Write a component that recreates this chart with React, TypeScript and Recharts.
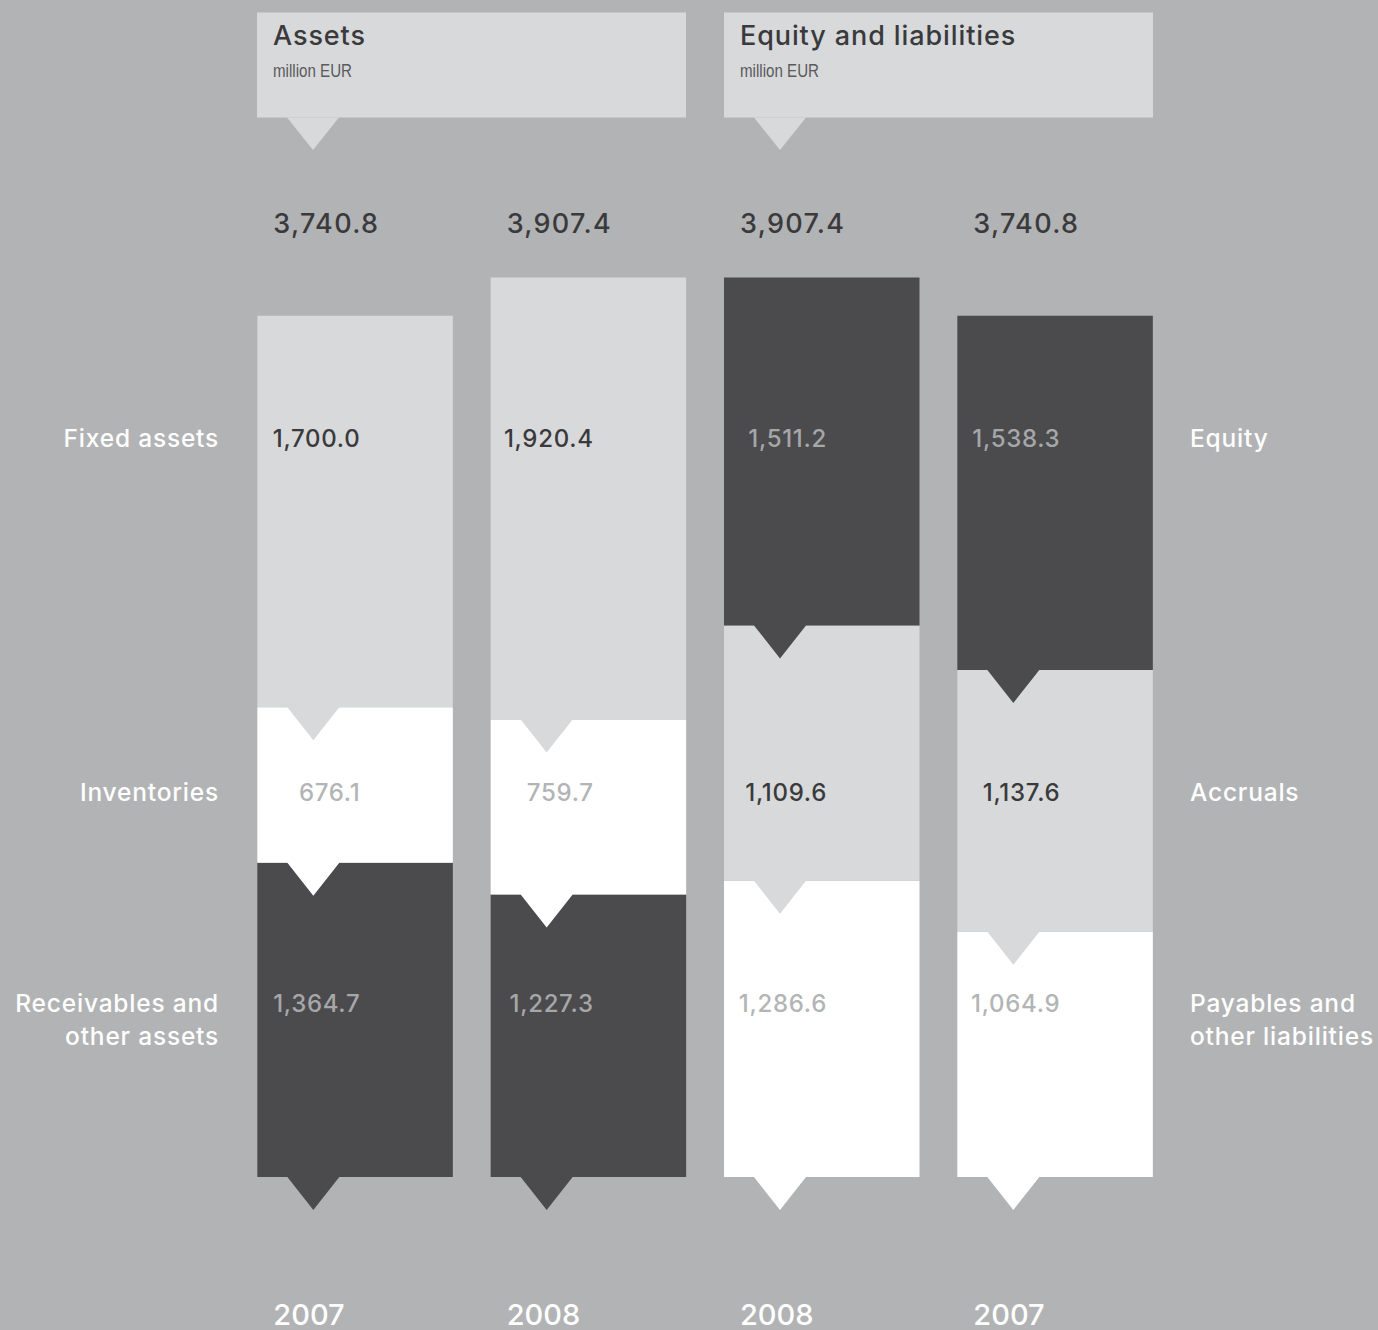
import React from "react";
import { BarChart, Bar, XAxis, YAxis, LabelList } from "recharts";

// values in million EUR
const categories = ["Assets 2007", "Assets 2008", "Liabilities 2008", "Liabilities 2007"];
const years = ["2007", "2008", "2008", "2007"];
const bottomValues = [1364.7, 1227.3, 1286.6, 1064.9];
const middleValues = [676.1, 759.7, 1109.6, 1137.6];
const topValues = [1700.0, 1920.4, 1511.2, 1538.3];
const totals = [3740.8, 3907.4, 3907.4, 3740.8];

const leftLabels = [["Fixed assets"], ["Inventories"], ["Receivables and", "other assets"]];
const rightLabels = [["Equity"], ["Accruals"], ["Payables and", "other liabilities"]];

const BG = "#b2b3b4";
const LIGHT = "#d8d9db";
const DARK = "#4b4b4d";
const WHITE = "#ffffff";
const FONT = "Inter, 'Liberation Sans', Arial, sans-serif";

const bottomFill = [DARK, DARK, WHITE, WHITE];
const middleFill = [WHITE, WHITE, LIGHT, LIGHT];
const topFill = [LIGHT, LIGHT, DARK, DARK];

const textOn: Record<string, string> = {
  [LIGHT]: "#3a3a3c",
  [DARK]: "#a6a7a9",
  [WHITE]: "#b3b4b5",
};

// baselines of the three label rows (top, middle, bottom segment)
const ROW_Y = [447, 801, 1012];

const data = categories.map((name, i) => ({
  name,
  year: years[i],
  total: totals[i],
  bottom: bottomValues[i],
  middle: middleValues[i],
  top: topValues[i],
}));

const fmt = (v: number) =>
  Number(v).toLocaleString("en-US", { minimumFractionDigits: 1, maximumFractionDigits: 1 });

const Pointer = (props: any) => {
  const x = Number(props.x);
  const y = Number(props.y);
  const w = Number(props.width);
  const h = Number(props.height);
  const by = y + h;
  const d = `M${x},${y}H${x + w}V${by}H${x + 82}L${x + 56},${by + 33}L${x + 30},${by}H${x}Z`;
  return <path d={d} fill={props.fill} />;
};

const valueLabel = (fills: string[], row: number) => (p: any) => {
  const i = p.index;
  return (
    <text
      x={Number(p.x) + 103}
      y={ROW_Y[row]}
      textAnchor="end"
      fontFamily={FONT}
      fontSize={24}
      fontWeight={500}
      letterSpacing={0.7}
      fill={textOn[fills[i]]}
    >
      {fmt(p.value)}
    </text>
  );
};

function Header({ x, title }: { x: number; title: string }) {
  return (
    <g>
      <rect x={x} y={12.5} width={429} height={105} fill={LIGHT} />
      <path d={`M${x + 30},117.5L${x + 56},150L${x + 82},117.5Z`} fill={LIGHT} />
      <text
        x={x + 16}
        y={45}
        fontFamily={FONT}
        fontSize={27}
        fontWeight={500}
        letterSpacing={0.9}
        fill="#3a3a3c"
      >
        {title}
      </text>
      <text
        x={x + 16}
        y={77}
        fontFamily="'Liberation Sans Narrow', 'Liberation Sans', Arial, sans-serif"
        fontSize={19}
        fill="#5a5a5c"
        textLength={79}
        lengthAdjust="spacingAndGlyphs"
      >
        million EUR
      </text>
    </g>
  );
}

function SideLabels({ lines, x, anchor }: { lines: string[][]; x: number; anchor: "start" | "end" }) {
  return (
    <g>
      {lines.map((ls, r) =>
        ls.map((t, k) => (
          <text
            key={`${r}-${k}`}
            x={x}
            y={ROW_Y[r] + k * 33}
            textAnchor={anchor}
            fontFamily={FONT}
            fontSize={24.5}
            fontWeight={500}
            letterSpacing={0.8}
            fill="#ffffff"
          >
            {t}
          </text>
        ))
      )}
    </g>
  );
}

export default function App() {
  return (
    <div style={{ position: "relative", width: 1378, height: 1330, background: BG, overflow: "hidden" }}>
      <style>{`body{margin:0;background:${BG}}`}</style>
      <BarChart
        width={1378}
        height={1330}
        data={data}
        margin={{ top: 256.2, right: 206.33, bottom: 153, left: 238.33 }}
      >
        <XAxis dataKey="name" hide />
        <YAxis hide domain={[0, 4000]} />
        <Bar
          dataKey="bottom"
          stackId="a"
          barSize={195.5}
          isAnimationActive={false}
          shape={(p: any) => <Pointer {...p} fill={bottomFill[p.index]} />}
        >
          <LabelList dataKey="bottom" content={valueLabel(bottomFill, 2)} />
          <LabelList
            dataKey="year"
            content={(p: any) => (
              <text
                x={Number(p.x) + 16}
                y={1325}
                fontFamily={FONT}
                fontSize={29}
                fontWeight={500}
                fill="#ffffff"
              >
                {p.value}
              </text>
            )}
          />
        </Bar>
        <Bar
          dataKey="middle"
          stackId="a"
          barSize={195.5}
          isAnimationActive={false}
          shape={(p: any) => <Pointer {...p} fill={middleFill[p.index]} />}
        >
          <LabelList dataKey="middle" content={valueLabel(middleFill, 1)} />
        </Bar>
        <Bar
          dataKey="top"
          stackId="a"
          barSize={195.5}
          isAnimationActive={false}
          shape={(p: any) => <Pointer {...p} fill={topFill[p.index]} />}
        >
          <LabelList dataKey="top" content={valueLabel(topFill, 0)} />
          <LabelList
            dataKey="total"
            content={(p: any) => (
              <text
                x={Number(p.x) + 16}
                y={233}
                fontFamily={FONT}
                fontSize={27}
                fontWeight={500}
                letterSpacing={1.3}
                fill="#3a3a3c"
              >
                {fmt(p.value)}
              </text>
            )}
          />
        </Bar>
      </BarChart>
      <svg
        width={1378}
        height={1330}
        style={{ position: "absolute", left: 0, top: 0, pointerEvents: "none" }}
      >
        <Header x={257} title="Assets" />
        <Header x={724} title="Equity and liabilities" />
        <SideLabels lines={leftLabels} x={219} anchor="end" />
        <SideLabels lines={rightLabels} x={1190} anchor="start" />
      </svg>
    </div>
  );
}
